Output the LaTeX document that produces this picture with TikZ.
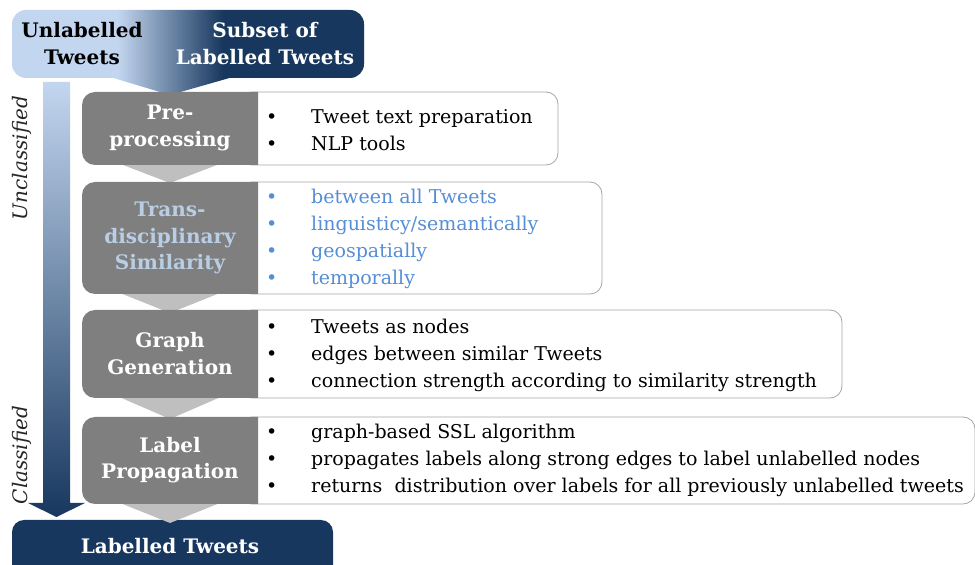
\documentclass[tikz,border=0pt]{standalone}
\usepackage{fontspec}
\setmainfont{DejaVu Serif}
\definecolor{navy}{HTML}{17375E}
\definecolor{lightblue}{HTML}{C3D6EF}
\definecolor{stepgray}{HTML}{7F7F7F}
\definecolor{chevgray}{HTML}{BFBFBF}
\definecolor{boxline}{HTML}{A6A6A6}
\definecolor{bulletblue}{HTML}{558ED5}
\definecolor{titleblue}{HTML}{B9CDE5}
\pgfdeclarehorizontalshading{headershade}{100bp}{color(0bp)=(lightblue); color(40bp)=(lightblue); color(55bp)=(navy); color(100bp)=(navy)}
\newcommand{\bul}{\makebox[45pt][l]{\textbullet}}
\tikzset{
  hdr/.style={font=\fontsize{20}{27}\selectfont\bfseries, align=center, inner sep=0pt},
  steptitle/.style={font=\fontsize{20}{26.5}\selectfont\bfseries, align=center, text=white, inner sep=0pt},
  bullets/.style={font=\fontsize{19}{27}\selectfont, align=left, anchor=west, inner sep=0pt},
  textbox/.style={draw=boxline, fill=white, line width=0.8pt, rounded corners=12pt},
  chevron/.style={fill=chevgray},
  sidelabel/.style={font=\fontsize{20}{24}\selectfont\itshape, text=black!85, rotate=90, inner sep=0pt}
}
\begin{document}
\begin{tikzpicture}[x=1pt,y=1pt]
\useasboundingbox (0,0) rectangle (975,565);
% header
\shade[shading=headershade, rounded corners=14pt] (12,555) rectangle (364,487)
  [sharp corners] (110,488) -- (170,470) -- (233,488) -- cycle;
% vertical arrow
\shade[top color=lightblue, bottom color=navy] (43,483) -- (43,62) -- (28,62) -- (56.5,48) -- (85,62) -- (70,62) -- (70,483) -- cycle;
% text boxes
\draw[textbox] (240,473) rectangle (558,400);
\draw[textbox] (240,383) rectangle (602,271);
\draw[textbox] (240,255) rectangle (842,167);
\draw[textbox] (240,148) rectangle (975,61);
% chevrons
\fill[chevgray] (110,405) -- (230,405) -- (170,382) -- cycle;
\fill[chevgray] (110,276) -- (230,276) -- (170,252) -- cycle;
\fill[chevgray] (110,172) -- (230,172) -- (170,146) -- cycle;
% bottom box
\fill[navy] (12,-10) -- (12,33) arc[start angle=180,end angle=90,radius=12] -- (321,45) arc[start angle=90,end angle=0,radius=12] -- (333,-10) -- cycle;
\fill[chevgray] (110,66) -- (230,66) -- (170,42) -- cycle;
% gray step boxes
\fill[stepgray] (258,473) -- (95,473) arc[start angle=90,end angle=180,radius=13] -- (82,413) arc[start angle=180,end angle=270,radius=13] -- (258,400) -- cycle;
\fill[stepgray] (258,383) -- (95,383) arc[start angle=90,end angle=180,radius=13] -- (82,284) arc[start angle=180,end angle=270,radius=13] -- (258,271) -- cycle;
\fill[stepgray] (258,255) -- (95,255) arc[start angle=90,end angle=180,radius=13] -- (82,180) arc[start angle=180,end angle=270,radius=13] -- (258,167) -- cycle;
\fill[stepgray] (258,148) -- (95,148) arc[start angle=90,end angle=180,radius=13] -- (82,74) arc[start angle=180,end angle=270,radius=13] -- (258,61) -- cycle;
% header texts
\node[hdr, text=black] (unl) at (82,521.5) {Unlabelled\\Tweets};
\node[hdr, text=white] (sub) at (265,521.5) {Subset of\\Labelled Tweets};
% side labels
\node[sidelabel] (uncl) at (22,407) {Unclassified};
\node[sidelabel] (cl) at (22,110) {Classified};
% step titles
\node[steptitle] (t1) at (170,437) {Pre-\\processing};
\node[steptitle, text=titleblue] (t2) at (170,327) {Trans-\\disciplinary\\Similarity};
\node[steptitle] (t3) at (170,211.5) {Graph\\Generation};
\node[steptitle] (t4) at (170,105) {Label\\Propagation};
\node[steptitle] (t5) at (170,19) {Labelled Tweets};
% bullet lists
\node[bullets] (b1) at (266,434.5) {\bul Tweet text preparation\\\bul NLP tools};
\node[bullets, text=bulletblue] (b2) at (266,326) {\bul between all Tweets\\\bul linguisticy/semantically\\\bul geospatially\\\bul temporally};
\node[bullets] (b3) at (266,209.5) {\bul Tweets as nodes\\\bul edges between similar Tweets\\\bul connection strength according to similarity strength};
\node[bullets] (b4) at (266,104.5) {\bul graph-based SSL algorithm\\\bul propagates labels along strong edges to label unlabelled nodes\\\bul returns~ distribution over labels for all previously unlabelled tweets};
\end{tikzpicture}
\end{document}
